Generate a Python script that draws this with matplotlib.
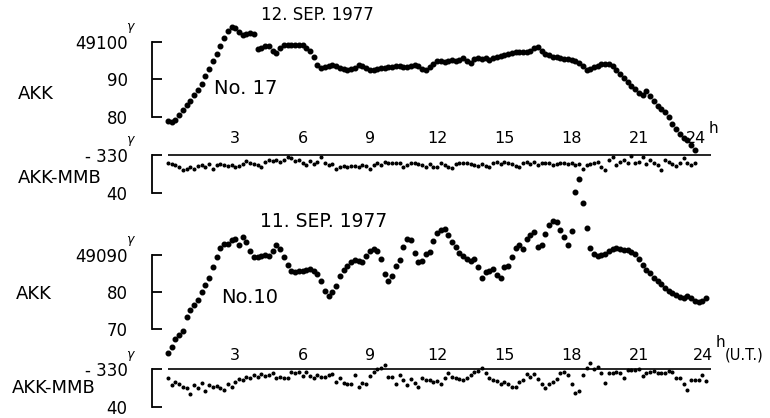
import numpy as np
import matplotlib
matplotlib.use("Agg")
import matplotlib.pyplot as plt

plt.rcParams["font.family"] = ["DejaVu Sans"]

# ---------------------------------------------------------------------------
# Data, one value every 10 minutes (U.T.)
# ---------------------------------------------------------------------------
STEP_H = 10 / 60

# 12 Sep 1977 (No. 17), AKK H-component, deviation from 49080 gamma
AKK_12_BASE = 49080
akk_12_dev = [
    -1.2, -1.4, -0.7, 0.4, 1.9, 3.2,
    4.3, 5.8, 7.2, 8.9, 10.8, 12.7,
    14.9, 16.7, 18.8, 21.0, 22.9, 24.0,
    23.6, 22.6, 21.9, 22.0, 22.3, 22.2,
    18.2, 18.5, 19.0, 18.8, 17.6, 17.0,
    18.4, 19.1, 19.2, 19.2, 19.1, 19.2,
    19.1, 18.5, 17.6, 16.0, 13.8, 13.1,
    13.3, 13.7, 13.9, 13.6, 13.2, 12.7,
    12.6, 12.8, 13.2, 13.8, 13.5, 13.0,
    12.6, 12.5, 12.9, 13.1, 13.2, 13.4,
    13.3, 13.5, 13.6, 13.4, 13.3, 13.6,
    13.9, 13.5, 12.8, 12.6, 13.3, 14.0,
    14.8, 14.9, 14.7, 14.9, 15.2, 15.0,
    15.3, 15.6, 15.0, 14.3, 15.4, 15.6,
    15.5, 15.6, 15.2, 15.6, 16.1, 16.3,
    16.6, 16.8, 17.0, 17.3, 17.4, 17.4,
    17.4, 17.6, 18.3, 18.7, 17.6, 16.7,
    16.4, 16.1, 15.9, 15.7, 15.5, 15.4,
    15.2, 14.9, 14.3, 13.5, 12.5, 12.9,
    13.3, 13.7, 14.0, 14.1, 14.0, 13.5,
    12.5, 11.4, 10.5, 9.2, 8.2, 7.5,
    6.5, 5.8, 7.0, 5.5, 4.2, 2.9,
    2.1, 1.2, -0.1, -1.9, -3.3, -4.5,
    -5.5, -6.2, -7.5, -8.9,
]

# 12 Sep 1977, AKK-MMB difference (gamma)
diff_12 = [
    -332.1, -332.4, -332.7, -333.1, -334.0, -333.6,
    -333.2, -333.6, -332.9, -332.7, -333.2, -332.4,
    -333.6, -332.7, -332.4, -332.7, -332.9, -332.7,
    -333.1, -332.9, -332.4, -331.5, -332.0, -332.4,
    -332.7, -333.1, -331.8, -331.2, -331.5, -331.4,
    -331.8, -331.2, -330.6, -330.8, -331.5, -331.2,
    -332.2, -332.7, -331.5, -332.4, -331.8, -330.6,
    -332.0, -332.7, -332.5, -333.6, -333.1, -332.9,
    -333.1, -333.0, -332.9, -333.1, -332.7, -333.0,
    -333.6, -332.7, -332.0, -332.7, -331.8, -332.2,
    -332.0, -332.1, -332.2, -333.1, -332.7, -332.0,
    -332.2, -332.4, -332.7, -333.2, -332.4, -333.3,
    -333.1, -332.2, -332.7, -333.3, -333.5, -332.4,
    -332.0, -332.2, -332.0, -332.4, -332.7, -333.0,
    -332.4, -332.9, -333.1, -332.2, -331.8, -332.4,
    -331.8, -332.0, -332.4, -332.9, -333.1, -332.2,
    -331.8, -332.4, -331.8, -332.7, -332.0, -332.2,
    -332.0, -332.7, -332.4, -332.2, -332.0, -332.4,
    -332.0, -332.7, -332.4, -333.6, -332.7, -332.4,
    -332.0, -331.8, -333.1, -334.0, -331.2, -330.4,
    -332.7, -331.8, -331.3, -332.0, -330.3, -332.2,
    -331.8, -330.5, -332.4, -331.3, -332.0, -332.7,
    -334.0, -331.3, -331.8, -332.4, -332.9, -332.2,
    -330.9, -332.0, -332.7, -332.0,
]

# 11 Sep 1977 (No. 10), AKK H-component, deviation from 49070 gamma
AKK_11_BASE = 49070
akk_11_dev = [
    -6.6, -4.8, -2.6, -1.6, -0.6, 3.2,
    5.2, 6.6, 7.8, 9.9, 11.8, 13.7,
    16.8, 19.5, 22.0, 22.9, 23.1, 24.1,
    24.3, 22.8, 24.8, 23.4, 21.0, 19.4,
    19.4, 19.8, 20.0, 19.6, 21.1, 22.6,
    21.6, 19.4, 17.3, 15.7, 15.5, 15.6,
    15.7, 15.9, 16.1, 15.8, 14.9, 12.9,
    10.2, 8.8, 9.9, 11.6, 14.2, 16.0,
    17.1, 18.1, 18.7, 18.3, 18.2, 19.7,
    21.1, 21.5, 21.0, 18.9, 14.8, 13.0,
    14.3, 17.0, 18.6, 22.2, 24.2, 24.0,
    20.6, 18.0, 18.4, 20.2, 20.9, 23.8,
    25.9, 26.8, 27.0, 25.4, 23.6, 22.1,
    20.6, 19.8, 19.0, 18.3, 18.9, 16.7,
    13.9, 15.5, 15.8, 16.1, 14.5, 13.9,
    16.7, 16.9, 19.5, 21.9, 22.8, 21.5,
    24.2, 25.4, 26.2, 22.2, 22.6, 25.6,
    28.2, 29.3, 29.0, 26.8, 24.8, 22.6,
    26.5, 37.0, 40.5, 34.0, 27.4, 21.8,
    20.3, 19.7, 19.9, 20.4, 21.1, 21.7,
    22.0, 21.5, 21.4, 21.3, 20.9, 20.2,
    19.0, 17.2, 15.9, 15.1, 13.8, 13.0,
    12.1, 11.0, 10.2, 9.7, 9.3, 8.6,
    8.4, 9.0, 8.5, 7.7, 7.3, 7.7, 8.3,
]

# 11 Sep 1977, AKK-MMB difference (gamma)
diff_11 = [
    -332.4, -334.2, -333.3, -333.8, -334.7, -335.1,
    -336.5, -334.2, -335.1, -333.6, -335.8, -334.2,
    -334.7, -334.5, -335.1, -335.6, -333.8, -334.7,
    -333.3, -332.7, -332.9, -332.0, -332.4, -331.5,
    -332.0, -331.3, -331.8, -331.5, -331.1, -332.4,
    -332.0, -332.4, -332.4, -330.6, -331.1, -330.6,
    -331.8, -330.6, -331.8, -332.2, -331.5, -332.0,
    -332.0, -331.5, -331.3, -333.3, -332.4, -333.6,
    -333.8, -333.8, -331.5, -334.7, -333.6, -334.0,
    -331.8, -330.6, -330.0, -329.7, -328.8, -332.0,
    -332.0, -333.8, -331.5, -332.9, -334.2, -332.7,
    -333.6, -334.7, -332.4, -332.9, -332.9, -333.3,
    -333.1, -333.8, -332.4, -331.1, -332.0, -332.2,
    -332.7, -332.9, -332.2, -331.5, -330.6, -330.4,
    -329.7, -331.1, -332.4, -332.9, -333.1, -333.8,
    -333.3, -334.0, -334.7, -334.7, -333.3, -332.9,
    -331.3, -332.0, -331.3, -332.6, -334.0, -335.1,
    -333.8, -333.3, -332.7, -330.9, -330.6, -331.5,
    -333.8, -336.3, -335.8, -331.5, -329.7, -328.2,
    -330.0, -329.5, -331.1, -333.6, -331.1, -331.1,
    -330.6, -331.1, -332.2, -330.2, -330.2, -330.2,
    -330.0, -331.8, -331.1, -330.6, -330.4, -331.1,
    -331.1, -330.9, -330.4, -330.6, -332.2, -332.2,
    -333.8, -335.4, -332.9, -332.9, -332.9, -331.5, -333.2,
]

DIFF_REF = -330
hour_ticks = [3, 6, 9, 12, 15, 18, 21]

# ---------------------------------------------------------------------------
# Layout (pixel geometry of the original figure, 770 x 418)
# ---------------------------------------------------------------------------
W, H = 770, 418
H0_PX, PX_PER_H = 168.0, 22.42
XLIM = (-0.8, 24.6)
SPINE_H = (152 - H0_PX) / PX_PER_H

fig = plt.figure(figsize=(W / 100, H / 100), dpi=100)


def panel(top_px, bottom_px, ref_val, ref_px, px_per_unit):
    left = H0_PX + XLIM[0] * PX_PER_H
    right = H0_PX + XLIM[1] * PX_PER_H
    ax = fig.add_axes([left / W, 1 - bottom_px / H,
                       (right - left) / W, (bottom_px - top_px) / H])
    ax.set_xlim(*XLIM)
    ax.set_ylim(ref_val - (bottom_px - ref_px) / px_per_unit,
                ref_val + (ref_px - top_px) / px_per_unit)
    ax.patch.set_alpha(0)
    for s in ("top", "right", "bottom"):
        ax.spines[s].set_visible(False)
    ax.spines["left"].set_position(("data", SPINE_H))
    ax.spines["left"].set_linewidth(1.3)
    ax.tick_params(axis="x", length=0, labelbottom=False)
    ax.tick_params(axis="y", direction="in", length=7.2, width=1.3,
                   pad=17.5, labelsize=12)
    return ax


def gamma_mark(ax, val):
    ax.annotate("γ", xy=(SPINE_H, val), xytext=(-16, 11), textcoords="offset points",
                ha="center", va="center", fontsize=9, style="italic")


def akk_panel(ax, base, dev, ticks, labels, no_text, no_xy):
    t = np.arange(len(dev)) * STEP_H
    ax.plot(t, base + np.asarray(dev), "o", ms=3.3, color="black",
            mec="black", clip_on=False)
    ax.spines["left"].set_bounds(ticks[0], ticks[-1])
    ax.set_yticks(ticks)
    ax.set_yticklabels(labels)
    gamma_mark(ax, ticks[-1])
    ax.text(no_xy[0], no_xy[1], no_text, ha="center", va="center", fontsize=14)


def diff_panel(ax, diff, lab_off):
    t = np.arange(len(diff)) * STEP_H
    ax.hlines(DIFF_REF, 0, 24.2, color="black", lw=1.2)
    ax.plot(t, diff, "o", ms=1.9, color="black", mec="black", clip_on=False)
    ax.spines["left"].set_bounds(DIFF_REF - 10, DIFF_REF)
    ax.set_yticks([DIFF_REF - 10, DIFF_REF])
    ax.set_yticklabels(["40", "- 330"])
    gamma_mark(ax, DIFF_REF)
    for h in hour_ticks:
        ax.annotate(str(h), xy=(h, DIFF_REF), xytext=(0, lab_off),
                    textcoords="offset points", ha="center", va="center",
                    fontsize=11.5)


# ---- 12 Sep 1977 -----------------------------------------------------------
ax1 = panel(5, 165, 49080, 117, 3.75)
akk_panel(ax1, AKK_12_BASE, akk_12_dev, [49080, 49090, 49100],
          ["80", "90", "49100"], "No. 17", (3.45, 49087.6))

ax2 = panel(145, 205, DIFF_REF, 155, 3.75)
diff_panel(ax2, diff_12, 12.2)
ax2.annotate("24", xy=(23.55, DIFF_REF), xytext=(0, 12.2), textcoords="offset points",
             ha="center", va="center", fontsize=11.5)
ax2.annotate("h", xy=(24.0, DIFF_REF), xytext=(2, 19), textcoords="offset points",
             ha="left", va="center", fontsize=11)

# ---- 11 Sep 1977 -----------------------------------------------------------
ax3 = panel(170, 345, 49070, 329, 3.7)
akk_panel(ax3, AKK_11_BASE, akk_11_dev, [49070, 49080, 49090],
          ["70", "80", "49090"], "No.10", (3.65, 49078.6))

ax4 = panel(362, 415, DIFF_REF, 369.3, 3.75)
diff_panel(ax4, diff_11, 10.2)
ax4.annotate("24", xy=(23.85, DIFF_REF), xytext=(0, 10.2), textcoords="offset points",
             ha="center", va="center", fontsize=11.5)
ax4.annotate("h", xy=(24.3, DIFF_REF), xytext=(2, 19.5), textcoords="offset points",
             ha="left", va="center", fontsize=11)
ax4.annotate("(U.T.)", xy=(24.6, DIFF_REF), xytext=(4, 10.2), textcoords="offset points",
             ha="left", va="center", fontsize=10.5)

# ---- side labels and dates -------------------------------------------------
fig.text(36 / W, 1 - 94 / H, "AKK", ha="center", va="center", fontsize=13)
fig.text(60 / W, 1 - 178 / H, "AKK-MMB", ha="center", va="center", fontsize=13)
fig.text(34 / W, 1 - 294 / H, "AKK", ha="center", va="center", fontsize=13)
fig.text(54 / W, 1 - 388 / H, "AKK-MMB", ha="center", va="center", fontsize=13)
fig.text(317 / W, 1 - 15 / H, "12. SEP. 1977", ha="center", va="center", fontsize=12)
fig.text(324 / W, 1 - 221 / H, "11. SEP. 1977", ha="center", va="center", fontsize=13.5)

fig.savefig("out.png", dpi=100)
